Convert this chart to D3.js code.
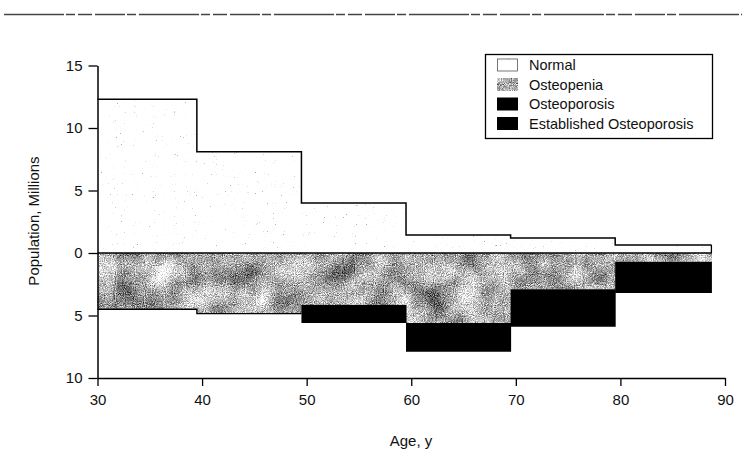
<!DOCTYPE html>
<html>
<head>
<meta charset="utf-8">
<script src="https://cdn.jsdelivr.net/npm/d3@7"></script>
<style>
  body { margin: 0; background: #fff; }
  svg { display: block; font-family: "Liberation Sans", Arial, sans-serif; }
</style>
</head>
<body>
<svg id="plotSVG" width="742" height="463"></svg>
<script>
// age group edges (bars run from one edge to the next)
const ageEdges = [30, 39.5, 49.5, 59.5, 69.5, 79.5, 88.7]
// population in millions
const normal = [12.3, 8.1, 4.0, 1.45, 1.2, 0.65]
const osteopenia = [4.5, 4.85, 4.15, 5.6, 2.9, 0.7]
const osteoporosis = [0, 0, 1.45, 2.3, 3.0, 2.5]
const established = [0, 0, 0, 0, 0, 0]   // same black as osteoporosis, can't be told apart

const xTicks = [30, 40, 50, 60, 70, 80, 90]
const yTicks = [-10, -5, 0, 5, 10, 15]
const legendNames = ["Normal", "Osteopenia", "Osteoporosis", "Established Osteoporosis"]

let svg = d3.select("#plotSVG")

// textures (scanned stipple look)
let defs = svg.append("defs")

// turbulence -> grey, fully opaque (so later arithmetic isn't premultiplied by noise alpha)
function opaqueNoise(filter, freq, octaves, seed, name) {
    filter.append("feTurbulence").attr("type", "fractalNoise").attr("baseFrequency", freq)
        .attr("numOctaves", octaves).attr("seed", seed).attr("result", name + "Raw")
    filter.append("feColorMatrix").attr("in", name + "Raw").attr("type", "saturate")
        .attr("values", 0).attr("result", name + "Grey")
    filter.append("feComponentTransfer").attr("in", name + "Grey").attr("result", name)
        .append("feFuncA").attr("type", "linear").attr("slope", 0).attr("intercept", 1)
}

let speck = defs.append("filter").attr("id", "speck")
    .attr("x", 0).attr("y", 0).attr("width", 1).attr("height", 1)
    .attr("color-interpolation-filters", "sRGB")
opaqueNoise(speck, 0.9, 2, 7, "n")
let ct1 = speck.append("feComponentTransfer").attr("in", "n").attr("result", "c")
let speckTable = "0.6 0.6 0.6 0.6 0.62 0.74 0.95 " + Array(14).fill(1).join(" ")
;["feFuncR", "feFuncG", "feFuncB"].forEach(f =>
    ct1.append(f).attr("type", "table").attr("tableValues", speckTable))
speck.append("feComposite").attr("in", "c").attr("in2", "SourceGraphic").attr("operator", "in")

let grain = defs.append("filter").attr("id", "grain")
    .attr("x", 0).attr("y", 0).attr("width", 1).attr("height", 1)
    .attr("color-interpolation-filters", "sRGB")
opaqueNoise(grain, 1.1, 1, 3, "fine")
opaqueNoise(grain, 0.035, 2, 11, "blot")
grain.append("feComposite").attr("in", "fine").attr("in2", "blot").attr("operator", "arithmetic")
    .attr("k1", 0).attr("k2", 1).attr("k3", 0.7).attr("k4", -0.35).attr("result", "mix")
let ct2 = grain.append("feComponentTransfer").attr("in", "mix").attr("result", "c")
;["feFuncR", "feFuncG", "feFuncB"].forEach(f =>
    ct2.append(f).attr("type", "linear").attr("slope", 1.8).attr("intercept", -0.24))
ct2.append("feFuncA").attr("type", "linear").attr("slope", 0).attr("intercept", 1)
grain.append("feComposite").attr("in", "c").attr("in2", "SourceGraphic").attr("operator", "in")

let fills = [
    {fill: "#fff", filter: "url(#speck)"},
    {fill: "#999", filter: "url(#grain)"},
    {fill: "#000", filter: null},
    {fill: "#000", filter: null}
]

// scanned rule at the top
svg.append("line")
    .attr("x1", 4).attr("x2", 742).attr("y1", 14.5).attr("y2", 14.5)
    .attr("stroke", "#444").attr("stroke-width", 1.6)
    .attr("stroke-dasharray", "60 2 9 3 14 3 30 2 9 3")

let xScale = d3.scaleLinear().domain([30, 90]).range([97.5, 725])
let yScale = d3.scaleLinear().domain([-10, 15]).range([378, 65.5])

// build stacked rows: normal goes up, the rest stack downward from 0
let bins = ageEdges.slice(0, -1).map((a, i) => ({
    x0: a, x1: ageEdges[i + 1],
    normal: normal[i], osteopenia: osteopenia[i],
    osteoporosis: osteoporosis[i], established: established[i]
}))

let plot = svg.append("g")

// normal (upward)
plot.selectAll(".normal")
    .data(bins)
    .join("rect")
    .attr("class", "normal")
    .attr("x", d => xScale(d.x0))
    .attr("width", d => xScale(d.x1) - xScale(d.x0) + 0.5)
    .attr("y", d => yScale(d.normal))
    .attr("height", d => yScale(0) - yScale(d.normal))
    .attr("fill", fills[0].fill)
    .attr("filter", fills[0].filter)

// downward stack
let downKeys = ["osteopenia", "osteoporosis", "established"]
let stack = d3.stack().keys(downKeys)(bins)
stack.forEach((layer, k) => {
    plot.selectAll(".down" + k)
        .data(layer)
        .join("rect")
        .attr("class", "down" + k)
        .attr("x", d => xScale(d.data.x0))
        .attr("width", d => xScale(d.data.x1) - xScale(d.data.x0) + 0.5)
        .attr("y", d => yScale(-d[0]))
        .attr("height", d => yScale(-d[1]) - yScale(-d[0]))
        .attr("fill", fills[k + 1].fill)
        .attr("filter", fills[k + 1].filter)
})

// step outlines
let stepTop = bins.map(d => [d.x0, d.normal]).concat([[ageEdges[ageEdges.length - 1], normal[normal.length - 1]]])
let stepLine = d3.line().x(d => xScale(d[0])).y(d => yScale(d[1])).curve(d3.curveStepAfter)
plot.append("path")
    .attr("d", stepLine(stepTop))
    .attr("fill", "none").attr("stroke", "#000").attr("stroke-width", 1.5)
plot.append("line")
    .attr("x1", xScale(ageEdges[ageEdges.length - 1])).attr("x2", xScale(ageEdges[ageEdges.length - 1]))
    .attr("y1", yScale(normal[normal.length - 1])).attr("y2", yScale(0))
    .attr("stroke", "#000").attr("stroke-width", 1.3)
let stepBot = bins.slice(0, 2).map(d => [d.x0, -d.osteopenia]).concat([[ageEdges[2], -osteopenia[1]]])
plot.append("path")
    .attr("d", stepLine(stepBot))
    .attr("fill", "none").attr("stroke", "#000").attr("stroke-width", 1.3)

// zero line
plot.append("line")
    .attr("x1", xScale(30)).attr("x2", xScale(ageEdges[ageEdges.length - 1]))
    .attr("y1", yScale(0)).attr("y2", yScale(0))
    .attr("stroke", "#000").attr("stroke-width", 1.5)

// axes
let yAxis = svg.append("g")
    .attr("transform", `translate(${xScale(30)},0)`)
    .call(d3.axisLeft(yScale).tickValues(yTicks).tickSize(9).tickSizeOuter(0)
        .tickFormat(d => Math.abs(d)))
let xAxis = svg.append("g")
    .attr("transform", `translate(0,${yScale(-10)})`)
    .call(d3.axisBottom(xScale).tickValues(xTicks).tickSize(8).tickSizeOuter(0))
;[xAxis, yAxis].forEach(ax => {
    ax.select(".domain").attr("stroke", "#000").attr("stroke-width", 1.5)
    ax.selectAll(".tick line").attr("stroke", "#000").attr("stroke-width", 1.3)
    ax.selectAll(".tick text").attr("fill", "#111")
        .style("font-size", "15px").style("font-family", "'Liberation Sans', Arial, sans-serif")
})
yAxis.selectAll(".tick text").attr("x", -15)
xAxis.selectAll(".tick text").attr("y", 16)

// axis titles
svg.append("text")
    .attr("transform", "translate(39,221) rotate(-90)")
    .attr("text-anchor", "middle")
    .style("font-size", "15px")
    .attr("fill", "#111")
    .text("Population, Millions")
svg.append("text")
    .attr("x", 411).attr("y", 446)
    .attr("text-anchor", "middle")
    .style("font-size", "15px")
    .attr("fill", "#111")
    .text("Age, y")

// legend
let legend = svg.append("g")
legend.append("rect")
    .attr("x", 485.5).attr("y", 54.5).attr("width", 227).attr("height", 84)
    .attr("fill", "#fff").attr("stroke", "#000").attr("stroke-width", 1.3)
let items = legend.selectAll(".item")
    .data(legendNames)
    .join("g")
    .attr("class", "item")
    .attr("transform", (d, i) => `translate(497,${65 + i * 19.5})`)
items.append("rect")
    .attr("x", 0).attr("y", -6.5).attr("width", 21).attr("height", 13)
    .attr("fill", (d, i) => fills[i].fill)
    .attr("filter", (d, i) => fills[i].filter)
items.filter((d, i) => i === 0).append("rect")
    .attr("x", 0.5).attr("y", -6).attr("width", 20).attr("height", 12)
    .attr("fill", "none").attr("stroke", "#555").attr("stroke-width", 0.8)
items.append("text")
    .attr("x", 32).attr("y", 5)
    .style("font-size", "14.5px")
    .attr("fill", "#111")
    .text(d => d)
</script>
</body>
</html>
